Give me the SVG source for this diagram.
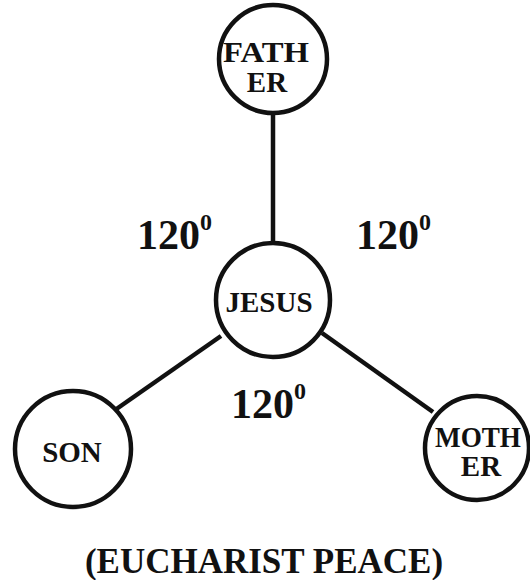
<svg xmlns="http://www.w3.org/2000/svg" width="530" height="580" viewBox="0 0 530 580">
<style>
.node{fill:#fff;stroke:#111;stroke-width:4.5}
text{font-family:"Liberation Serif","Times New Roman","DejaVu Serif",serif;font-weight:bold;fill:#111}
.lbl{text-anchor:middle}
.n{font-size:29px}
.deg{font-size:42px}
.sup{font-size:24px}
.edge{stroke:#111;stroke-width:4.5;fill:none}
</style>
<rect width="530" height="580" fill="#fff"/>
<g id="connectors">
<line class="edge" x1="273" y1="113" x2="273" y2="244"/>
<line class="edge" x1="221" y1="336" x2="115" y2="410"/>
<line class="edge" x1="322" y1="333" x2="433" y2="412"/>
</g>
<g id="father">
<circle class="node" cx="273" cy="59" r="54"/>
<text class="lbl n" x="266" y="62" textLength="86" lengthAdjust="spacingAndGlyphs">FATH</text>
<text class="lbl n" x="267" y="92">ER</text>
</g>
<g id="jesus">
<circle class="node" cx="273" cy="300" r="57"/>
<text class="lbl n" x="269" y="312">JESUS</text>
</g>
<g id="son">
<circle class="node" cx="73" cy="449" r="58"/>
<text class="lbl n" x="72" y="462">SON</text>
</g>
<g id="mother">
<circle class="node" cx="477" cy="448" r="52"/>
<text class="lbl n" x="478" y="447" textLength="86" lengthAdjust="spacingAndGlyphs">MOTH</text>
<text class="lbl n" x="481" y="476">ER</text>
</g>
<text class="deg" x="137" y="249">120<tspan class="sup" dy="-19">0</tspan></text>
<text class="deg" x="356" y="249">120<tspan class="sup" dy="-19">0</tspan></text>
<text class="deg" x="231" y="418">120<tspan class="sup" dy="-19">0</tspan></text>
<text class="lbl" x="264" y="573" font-size="35">(EUCHARIST PEACE)</text>
</svg>
